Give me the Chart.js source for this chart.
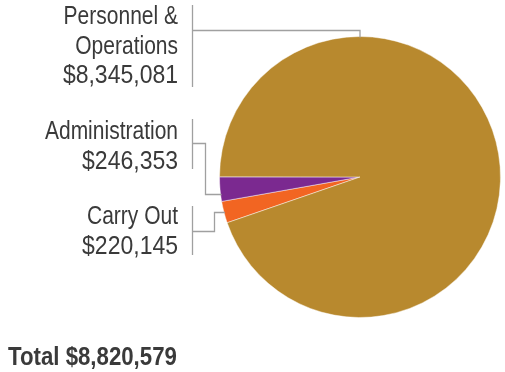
<!DOCTYPE html>
<html>
<head>
<meta charset="utf-8">
<script src="https://cdn.jsdelivr.net/npm/chart.js@4"></script>
<style>
  html, body { margin: 0; padding: 0; background: #ffffff; }
  #wrap { width: 505px; height: 372px; position: relative; }
</style>
</head>
<body>
<div id="wrap"><canvas id="c" width="505" height="372"></canvas></div>
<script>
// Data (clockwise order starting at the lower-left slice)
const categories = ["Carry Out", "Administration", "Personnel & Operations"];
const labelLines = [["Carry Out"], ["Administration"], ["Personnel &", "Operations"]];
const values = [220145, 246353, 8345081];
const valueLabels = ["$220,145", "$246,353", "$8,345,081"];
const totalLabel = "Total $8,820,579";
const colors = ["#F26522", "#7B2990", "#B8892E"];

const TEXT_COLOR = "#3a3a3a";
const LINE_COLOR = "#a0a0a0";
const SQUEEZE_TEXT = 0.84;
const SQUEEZE_NUM = 0.92;

function condensedText(ctx, text, x, y, font, align, squeeze) {
  ctx.save();
  ctx.font = font;
  ctx.fillStyle = TEXT_COLOR;
  ctx.textBaseline = "alphabetic";
  const w = ctx.measureText(text).width * squeeze;
  const left = align === "right" ? x - w : x;
  ctx.translate(left, y);
  ctx.scale(squeeze, 1);
  ctx.textAlign = "left";
  ctx.fillText(text, 0, 0);
  ctx.restore();
}

function line(ctx, pts) {
  ctx.beginPath();
  ctx.moveTo(pts[0][0], pts[0][1]);
  for (let i = 1; i < pts.length; i++) ctx.lineTo(pts[i][0], pts[i][1]);
  ctx.stroke();
}

const labelPlugin = {
  id: "labels",
  afterDraw(chart) {
    const ctx = chart.ctx;
    const arcs = chart.getDatasetMeta(0).data;
    const font = "25px 'Liberation Sans', Arial, sans-serif";
    const textRight = 178;
    const bracketX = 192.5;
    ctx.save();
    ctx.strokeStyle = LINE_COLOR;
    ctx.lineWidth = 1.3;

    const pt = (arc, frac) => {
      const a = arc.startAngle + (arc.endAngle - arc.startAngle) * frac;
      return [arc.x + Math.cos(a) * arc.outerRadius, arc.y + Math.sin(a) * arc.outerRadius];
    };

    // Personnel & Operations (index 2): connects to the top of the pie
    {
      const arc = arcs[2];
      const top = [arc.x, arc.y - arc.outerRadius];
      line(ctx, [[bracketX, 5], [bracketX, 87]]);
      line(ctx, [[bracketX, 30.5], [top[0], 30.5], [top[0], top[1] + 1]]);
      condensedText(ctx, labelLines[2][0], textRight, 24, font, "right", SQUEEZE_TEXT);
      condensedText(ctx, labelLines[2][1], textRight, 53.5, font, "right", SQUEEZE_TEXT);
      condensedText(ctx, valueLabels[2], textRight, 83, font, "right", SQUEEZE_NUM);
    }
    // Administration (index 1)
    {
      const arc = arcs[1];
      const p = pt(arc, 0.3);
      const y = Math.round(p[1]) + 0.5;
      line(ctx, [[bracketX, 119], [bracketX, 169]]);
      line(ctx, [[bracketX, 143.5], [205.5, 143.5], [205.5, y], [p[0] + 1, y]]);
      condensedText(ctx, labelLines[1][0], textRight, 139, font, "right", SQUEEZE_TEXT);
      condensedText(ctx, valueLabels[1], textRight, 168.5, font, "right", SQUEEZE_NUM);
    }
    // Carry Out (index 0)
    {
      const arc = arcs[0];
      const p = pt(arc, 0.5);
      const y = Math.round(p[1]) + 0.5;
      line(ctx, [[bracketX, 206], [bracketX, 255]]);
      line(ctx, [[bracketX, 231.5], [214.5, 231.5], [214.5, y], [p[0] + 1, y]]);
      condensedText(ctx, labelLines[0][0], textRight, 224, font, "right", SQUEEZE_TEXT);
      condensedText(ctx, valueLabels[0], textRight, 253.5, font, "right", SQUEEZE_NUM);
    }
    // Total
    condensedText(ctx, totalLabel, 8, 365, "bold 26px 'Liberation Sans', Arial, sans-serif", "left", 0.855);
    ctx.restore();
  }
};

new Chart(document.getElementById("c"), {
  type: "pie",
  data: {
    labels: categories,
    datasets: [{
      data: values,
      backgroundColor: colors,
      borderColor: "rgba(255,255,255,0.45)",
      borderWidth: 1
    }]
  },
  options: {
    responsive: false,
    animation: false,
    rotation: 251,
    layout: { padding: { left: 219, right: 4, top: 36, bottom: 54 } },
    plugins: {
      legend: { display: false },
      tooltip: { enabled: false }
    },
    events: []
  },
  plugins: [labelPlugin]
});
</script>
</body>
</html>
